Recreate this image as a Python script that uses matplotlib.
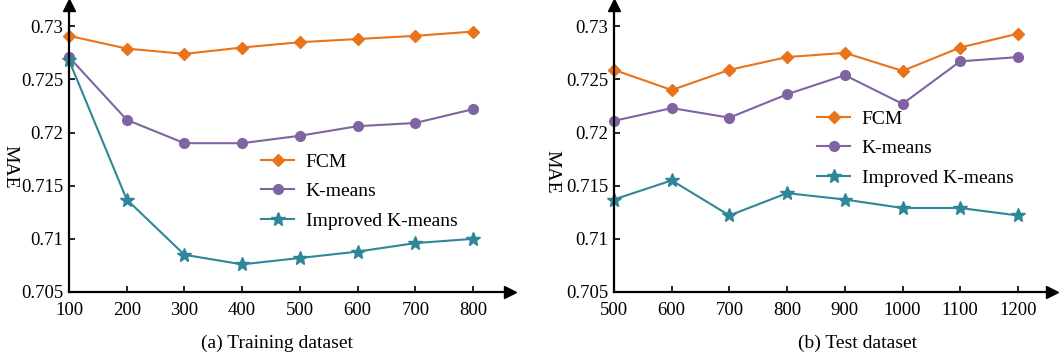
import matplotlib
matplotlib.use("Agg")
import matplotlib.pyplot as plt

plt.rcParams["font.family"] = ["Liberation Serif", "DejaVu Serif"]
plt.rcParams["font.size"] = 13

# (a) training dataset
train_x = [100, 200, 300, 400, 500, 600, 700, 800]
train_fcm = [0.7291, 0.7279, 0.7274, 0.7280, 0.7285, 0.7288, 0.7291, 0.7295]
train_kmeans = [0.7271, 0.7212, 0.7190, 0.7190, 0.7197, 0.7206, 0.7209, 0.7222]
train_improved = [0.7268, 0.7137, 0.7085, 0.7076, 0.7082, 0.7088, 0.7096, 0.7100]

# (b) test dataset
test_x = [500, 600, 700, 800, 900, 1000, 1100, 1200]
test_fcm = [0.7259, 0.7240, 0.7259, 0.7271, 0.7275, 0.7258, 0.7280, 0.7293]
test_kmeans = [0.7211, 0.7223, 0.7214, 0.7236, 0.7254, 0.7227, 0.7267, 0.7271]
test_improved = [0.7137, 0.7155, 0.7122, 0.7143, 0.7137, 0.7129, 0.7129, 0.7122]

y_ticks = [0.705, 0.71, 0.715, 0.72, 0.725, 0.73]
y_labels = ["0.705", "0.71", "0.715", "0.72", "0.725", "0.73"]
series_names = ["FCM", "K-means", "Improved K-means"]

COLORS = ["#E8731A", "#8064A2", "#2E8699"]
MARKERS = ["D", "o", "*"]
MSIZES = [6, 7, 10]

W, H = 1062, 357
fig = plt.figure(figsize=(W / 100, H / 100), dpi=100)


def setup_axes(rect, xs, ys_list, xlim, legend_anchor):
    ax = fig.add_axes(rect)
    for ys, c, m, ms, name in zip(ys_list, COLORS, MARKERS, MSIZES, series_names):
        ax.plot(xs, ys, color=c, marker=m, markersize=ms, linewidth=1.5, label=name, clip_on=False)
    ax.set_xlim(*xlim)
    ax.set_ylim(0.705, 0.732)
    ax.set_xticks(xs)
    ax.set_xticklabels([str(v) for v in xs])
    ax.set_yticks(y_ticks)
    ax.set_yticklabels(y_labels)
    for side in ("top", "right"):
        ax.spines[side].set_visible(False)
    for side in ("left", "bottom"):
        ax.spines[side].set_linewidth(1.6)
    ax.tick_params(direction="in", length=4, width=1.2, labelsize=13.5)
    ax.tick_params(axis="x", pad=7)
    ax.tick_params(axis="y", pad=4)
    ax.plot(1, 0, ">k", markersize=8, transform=ax.transAxes, clip_on=False)
    ax.plot(0, 1, "^k", markersize=8, transform=ax.transAxes, clip_on=False)
    ax.legend(loc="upper left", bbox_to_anchor=legend_anchor, bbox_transform=fig.transFigure,
              frameon=False, borderpad=0, borderaxespad=0, handlelength=1.7,
              handletextpad=0.6, labelspacing=0.62, fontsize=14)
    return ax


ax1 = setup_axes([69 / W, 1 - 292 / H, 441 / W, 287 / H], train_x,
                 [train_fcm, train_kmeans, train_improved], (100, 864),
                 (261 / W, 1 - 153 / H))
ax2 = setup_axes([614 / W, 1 - 292 / H, 438 / W, 287 / H], test_x,
                 [test_fcm, test_kmeans, test_improved], (500, 1259),
                 (817 / W, 1 - 110 / H))

fig.text(10 / W, 1 - 167 / H, "MAE", rotation=-90, ha="center", va="center", fontsize=14)
fig.text(552 / W, 1 - 172 / H, "MAE", rotation=-90, ha="center", va="center", fontsize=14)
fig.text(277 / W, 1 - 343 / H, "(a) Training dataset", ha="center", va="center", fontsize=14)
fig.text(858 / W, 1 - 343 / H, "(b) Test dataset", ha="center", va="center", fontsize=14)

fig.savefig("out.png", dpi=100)
